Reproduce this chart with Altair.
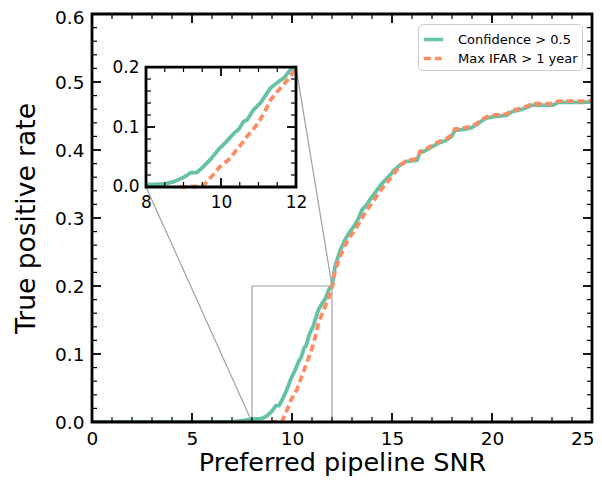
import altair as alt
import pandas as pd

# ---------------- data ----------------
SERIES = ["Confidence > 0.5", "Max IFAR > 1 year"]
COLORS = ["#66c2a5", "#fc8d62"]

conf_snr = [0, 7.0, 7.5, 8.0, 8.5, 8.75, 9.0, 9.2, 9.35, 9.5, 9.72, 9.94, 10.15, 10.35, 10.47, 10.6, 10.7,
            10.87, 11.05, 11.2, 11.32, 11.54, 11.68, 11.86, 12.0, 12.15, 12.4, 12.65, 12.9, 13.15, 13.3,
            13.5, 13.75, 13.9, 14.15, 14.45, 14.7, 14.9, 15.1, 15.4, 15.7, 16.0, 16.25, 16.4, 16.6, 16.9,
            17.2, 17.4, 17.7, 17.98, 18.15, 18.5, 18.9, 19.23, 19.5, 19.73, 20.07, 20.4, 20.73, 20.98,
            21.4, 21.7, 21.98, 22.5, 23.07, 23.3, 24.0, 24.57, 25.0]
conf_tpr = [0, 0, 0.002, 0.004, 0.005, 0.009, 0.016, 0.024, 0.024, 0.032, 0.046, 0.063, 0.076, 0.09,
            0.096, 0.109, 0.112, 0.129, 0.14, 0.154, 0.165, 0.176, 0.182, 0.196, 0.2, 0.228, 0.252,
            0.268, 0.28, 0.29, 0.298, 0.312, 0.32, 0.327, 0.337, 0.349, 0.357, 0.363, 0.37, 0.378,
            0.383, 0.384, 0.385, 0.396, 0.398, 0.403, 0.408, 0.411, 0.414, 0.42, 0.429, 0.43, 0.432,
            0.437, 0.443, 0.447, 0.449, 0.45, 0.451, 0.456, 0.459, 0.462, 0.466, 0.466, 0.466, 0.47,
            0.47, 0.47, 0.471]

ifar_snr = [8.9, 9.5, 9.63, 9.8, 9.94, 10.1, 10.25, 10.38, 10.6, 10.69, 10.96, 11.05, 11.2, 11.32,
            11.49, 11.63, 11.85, 12.0, 12.15, 12.4, 12.65, 12.9, 13.2, 13.4, 13.6, 13.85, 14.0, 14.25,
            14.55, 14.8, 15.0, 15.2, 15.45, 15.7, 16.0, 16.25, 16.4, 16.6, 16.9, 17.2, 17.4, 17.7,
            17.98, 18.15, 18.5, 18.9, 19.23, 19.5, 19.73, 20.07, 20.4, 20.73, 20.98, 21.4, 21.7,
            21.98, 22.5, 23.07, 23.3, 24.0, 24.57, 25.0]
ifar_tpr = [0, 0.001, 0.009, 0.021, 0.032, 0.04, 0.048, 0.059, 0.076, 0.084, 0.104, 0.113, 0.13,
            0.145, 0.158, 0.168, 0.184, 0.198, 0.222, 0.243, 0.26, 0.272, 0.285, 0.295, 0.305, 0.316,
            0.322, 0.333, 0.345, 0.354, 0.362, 0.369, 0.378, 0.384, 0.386, 0.387, 0.398, 0.4, 0.405,
            0.41, 0.413, 0.416, 0.422, 0.431, 0.432, 0.434, 0.439, 0.445, 0.449, 0.451, 0.452, 0.453,
            0.458, 0.461, 0.464, 0.468, 0.468, 0.468, 0.472, 0.472, 0.472, 0.473]

X_MAJOR = [0, 5, 10, 15, 20, 25]
X_MINOR = [v for v in range(26) if v % 5 != 0]
Y_MAJOR = [0.0, 0.1, 0.2, 0.3, 0.4, 0.5, 0.6]
Y_MINOR = [round(i * 0.02, 2) for i in range(31) if i % 5 != 0]
IN_X_MAJOR = [8, 10, 12]
IN_X_MINOR = [8.5, 9, 9.5, 10.5, 11, 11.5]
IN_Y_MAJOR = [0.0, 0.1, 0.2]
IN_Y_MINOR = [0.02, 0.04, 0.06, 0.08, 0.12, 0.14, 0.16, 0.18]

X_DOM = [0, 25]
Y_DOM = [0, 0.6]
IN_X_DOM = [8, 12]
IN_Y_DOM = [0, 0.2]

# inset placement (in main data coordinates)
INSET_X = [2.7, 10.2]
INSET_Y = [0.3456, 0.522]

W, H = 500, 408
FONT = "DejaVu Sans"

lines = pd.DataFrame({
    "snr": conf_snr + ifar_snr,
    "tpr": conf_tpr + ifar_tpr,
    "series": [SERIES[0]] * len(conf_snr) + [SERIES[1]] * len(ifar_snr),
})

LEG = alt.Legend(title=None, orient="top-right", offset=10, symbolType="stroke", symbolSize=380,
                 symbolStrokeWidth=3.5, labelFontSize=13, labelFont=FONT, labelColor="black",
                 padding=4, strokeColor="#cccccc", fillColor="white", cornerRadius=4, rowPadding=-1,
                 labelOffset=13)
COLOR = alt.Color("series:N", scale=alt.Scale(domain=SERIES, range=COLORS), legend=LEG)
DASH = alt.StrokeDash("series:N", scale=alt.Scale(domain=SERIES, range=[[1, 0], [7, 4]]), legend=LEG)

ONE = pd.DataFrame({"k": [0]})


def tick_layers(xmaj, xmin, ymaj, ymin, xd, yd, sx, sy, ax, ay, big=9, small=5):
    out = []
    for vals, L, wdt in ((xmaj, big, 1.8), (xmin, small, 1.2)):
        df = pd.DataFrame({"v": vals})
        for side in ("bottom", "top"):
            yv = yd[0] if side == "bottom" else yd[1]
            off = -L if side == "bottom" else L
            out.append(alt.Chart(df).mark_rule(color="black", strokeWidth=wdt, y2Offset=off).encode(
                x=alt.X("v:Q", scale=sx, axis=ax),
                y=alt.YDatum(yv, type="quantitative", scale=sy, axis=ay),
                y2=alt.Y2Datum(yv),
            ))
    for vals, L, wdt in ((ymaj, big, 1.8), (ymin, small, 1.2)):
        df = pd.DataFrame({"v": vals})
        for side in ("left", "right"):
            xv = xd[0] if side == "left" else xd[1]
            off = L if side == "left" else -L
            out.append(alt.Chart(df).mark_rule(color="black", strokeWidth=wdt, x2Offset=off).encode(
                y=alt.Y("v:Q", scale=sy, axis=ay),
                x=alt.XDatum(xv, type="quantitative", scale=sx, axis=ax),
                x2=alt.X2Datum(xv),
            ))
    return out


def frame(xd, yd, sx, sy, ax, ay, color="black", width=2.8, fill=None):
    kw = dict(stroke=color, strokeWidth=width)
    if fill:
        kw["fill"] = fill
    else:
        kw["fillOpacity"] = 0
    return alt.Chart(ONE).mark_rect(**kw).encode(
        x=alt.XDatum(xd[0], type="quantitative", scale=sx, axis=ax),
        x2=alt.X2Datum(xd[1]),
        y=alt.YDatum(yd[0], type="quantitative", scale=sy, axis=ay),
        y2=alt.Y2Datum(yd[1]),
    )


# ---------------- main panel ----------------
SX = alt.Scale(domain=X_DOM, nice=False, zero=False)
SY = alt.Scale(domain=Y_DOM, nice=False, zero=False)
AX = alt.Axis(title="Preferred pipeline SNR", values=X_MAJOR, format="d", orient="bottom",
              ticks=False, tickSize=0, domain=False, grid=False, labelFlush=False,
              labelAlign=alt.ExprRef(expr="datum.value == 25 ? 'right' : 'center'"),
              labelOffset=alt.ExprRef(expr="datum.value == 25 ? 2 : 0"),
              labelFontSize=18.5, labelPadding=7, labelFont=FONT, labelColor="black",
              titleFontSize=25.5, titlePadding=3, titleFont=FONT, titleFontWeight="normal",
              titleColor="black")
AY = alt.Axis(title="True positive rate", values=Y_MAJOR, format=".1f", orient="left",
              ticks=False, tickSize=0, domain=False, grid=False,
              labelOffset=alt.ExprRef(expr="datum.value > 0.55 ? 3.5 : 0"),
              labelFontSize=18.5, labelPadding=8, labelFont=FONT, labelColor="black",
              titleFontSize=26.5, titlePadding=14, titleFont=FONT, titleFontWeight="normal",
              titleColor="black")

main_lines = alt.Chart(lines).mark_line(strokeWidth=3.8, clip=True).encode(
    x=alt.X("snr:Q", scale=SX, axis=AX),
    y=alt.Y("tpr:Q", scale=SY, axis=AY),
    color=COLOR, strokeDash=DASH,
)

zoom_box = frame(IN_X_DOM, IN_Y_DOM, SX, SY, AX, AY, color="#a0a0a0", width=1.2)

conn = pd.DataFrame({
    "x": [INSET_X[0], INSET_X[1]], "y": [INSET_Y[0], INSET_Y[1]],
    "x2": [IN_X_DOM[0], IN_X_DOM[1]], "y2": [IN_Y_DOM[0], IN_Y_DOM[1]],
})
connectors = alt.Chart(conn).mark_rule(color="#a0a0a0", strokeWidth=1.2).encode(
    x=alt.X("x:Q", scale=SX, axis=AX), y=alt.Y("y:Q", scale=SY, axis=AY),
    x2="x2:Q", y2="y2:Q",
)

main = alt.layer(
    zoom_box, connectors, main_lines,
    *tick_layers(X_MAJOR, X_MINOR, Y_MAJOR, Y_MINOR, X_DOM, Y_DOM, SX, SY, AX, AY),
    frame(X_DOM, Y_DOM, SX, SY, AX, AY),
)

# ---------------- inset ----------------
x_r = [INSET_X[0] / X_DOM[1] * W, INSET_X[1] / X_DOM[1] * W]
y_r = [H - INSET_Y[0] / Y_DOM[1] * H, H - INSET_Y[1] / Y_DOM[1] * H]
SXI = alt.Scale(domain=IN_X_DOM, range=x_r, nice=False, zero=False)
SYI = alt.Scale(domain=IN_Y_DOM, range=y_r, nice=False, zero=False)
AXI = alt.Axis(title=None, values=IN_X_MAJOR, format="d", orient="bottom", offset=-(H - y_r[0]),
               ticks=False, tickSize=0, domain=False, grid=False, labelFlush=False,
               labelFontSize=17, labelPadding=8, labelFont=FONT, labelColor="black")
AYI = alt.Axis(title=None, values=IN_Y_MAJOR, format=".1f", orient="left", offset=-x_r[0],
               ticks=False, tickSize=0, domain=False, grid=False,
               labelFontSize=17, labelPadding=7, labelFont=FONT, labelColor="black")

inset_bg = frame(IN_X_DOM, IN_Y_DOM, SXI, SYI, AXI, AYI, color="white", width=0, fill="white")
inset_lines = alt.Chart(lines).mark_line(strokeWidth=3.8).encode(
    x=alt.X("snr:Q", scale=SXI, axis=AXI),
    y=alt.Y("tpr:Q", scale=SYI, axis=AYI),
    color=COLOR, strokeDash=DASH,
).transform_filter((alt.datum.snr >= IN_X_DOM[0]) & (alt.datum.snr <= IN_X_DOM[1]))

inset = alt.layer(
    inset_bg, inset_lines,
    *tick_layers(IN_X_MAJOR, IN_X_MINOR, IN_Y_MAJOR, IN_Y_MINOR, IN_X_DOM, IN_Y_DOM, SXI, SYI, AXI, AYI),
    frame(IN_X_DOM, IN_Y_DOM, SXI, SYI, AXI, AYI),
)

chart = alt.layer(main, inset).resolve_scale(x="independent", y="independent").properties(
    width=W, height=H,
    autosize=alt.AutoSizeParams(type="none"),
    padding={"left": 84, "top": 6, "right": 2, "bottom": 56},
).configure(font=FONT).configure_view(strokeWidth=0)

chart.save("out.html", embed_options={"renderer": "svg", "actions": False})
